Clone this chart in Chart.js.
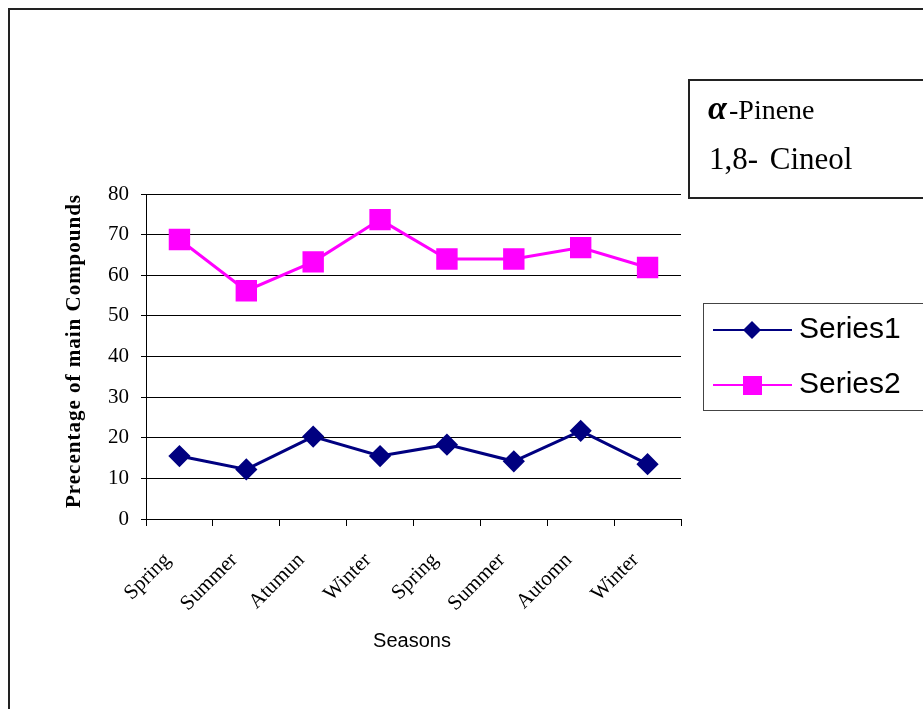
<!DOCTYPE html>
<html>
<head>
<meta charset="utf-8">
<script src="https://cdn.jsdelivr.net/npm/chart.js@4.4.0/dist/chart.umd.min.js"></script>
<style>
  html, body { margin: 0; padding: 0; background: #fff; }
  #wrap { position: relative; width: 923px; height: 709px; }
</style>
</head>
<body>
<div id="wrap"><canvas id="chart" width="923" height="709"></canvas></div>
<script>
// Data
const seasons = ['Spring', 'Summer', 'Atumun', 'Winter', 'Spring', 'Summer', 'Automn', 'Winter'];
const series1 = [15.5, 12.2, 20.3, 15.5, 18.3, 14.2, 21.7, 13.5];
const series2 = [68.8, 56.2, 63.3, 73.7, 64.0, 64.0, 66.8, 61.9];
const seriesNames = ['Series1', 'Series2'];
const boxLines = ['-Pinene', '1,8- Cineol'];

const serif = '"Liberation Serif", "Times New Roman", serif';
const sans = '"Liberation Sans", Arial, sans-serif';

// Frame, titles and the two boxes on the right
const decorations = {
    id: 'decorations',
    afterDraw(chart) {
        const ctx = chart.ctx;
        ctx.save();

        // outer frame
        ctx.strokeStyle = '#222';
        ctx.lineWidth = 2;
        ctx.strokeRect(9, 9, 940, 720);

        // y title
        ctx.save();
        ctx.translate(75, 351);
        ctx.rotate(-Math.PI / 2);
        ctx.font = 'bold 21px ' + serif;
        ctx.letterSpacing = '1px';
        ctx.fillStyle = '#000';
        ctx.textAlign = 'center';
        ctx.textBaseline = 'middle';
        ctx.fillText('Precentage of main Compounds', 0, 0);
        ctx.restore();

        // x title
        ctx.font = '20px ' + sans;
        ctx.fillStyle = '#000';
        ctx.textAlign = 'center';
        ctx.textBaseline = 'middle';
        ctx.fillText('Seasons', 412, 641);

        // compound box
        ctx.strokeStyle = '#222';
        ctx.lineWidth = 2;
        ctx.strokeRect(689, 80, 260, 118);
        ctx.textAlign = 'left';
        ctx.textBaseline = 'alphabetic';
        ctx.font = 'italic bold 34px ' + serif;
        ctx.fillText('α', 708, 119);
        ctx.font = '28px ' + serif;
        ctx.fillText(boxLines[0], 729, 119);
        ctx.font = '31px ' + serif;
        ctx.wordSpacing = '4px';
        ctx.fillText(boxLines[1], 709, 169);
        ctx.wordSpacing = '0px';

        // series legend
        ctx.strokeStyle = '#444';
        ctx.lineWidth = 1;
        ctx.strokeRect(703.5, 303.5, 250, 107);
        chart.data.datasets.forEach((ds, i) => {
            const y = 330 + i * 55;
            ctx.strokeStyle = ds.borderColor;
            ctx.lineWidth = 2;
            ctx.beginPath();
            ctx.moveTo(713, y);
            ctx.lineTo(792, y);
            ctx.stroke();
            ctx.fillStyle = ds.backgroundColor;
            ctx.beginPath();
            if (ds.pointStyle === 'rectRot') {
                ctx.moveTo(752, y - 9); ctx.lineTo(761, y); ctx.lineTo(752, y + 9); ctx.lineTo(743, y);
            } else {
                ctx.rect(743, y - 9, 19, 19);
            }
            ctx.closePath();
            ctx.fill();
            ctx.fillStyle = '#000';
            ctx.font = '30px ' + sans;
            ctx.textBaseline = 'middle';
            ctx.fillText(seriesNames[i], 799, y);
        });

        ctx.restore();
    }
};

new Chart(document.getElementById('chart'), {
    type: 'line',
    data: {
        labels: seasons,
        datasets: [{
            label: seriesNames[0],
            data: series1,
            borderColor: '#000080',
            backgroundColor: '#000080',
            borderWidth: 3,
            pointStyle: 'rectRot',
            pointRadius: 9,
            pointHoverRadius: 9,
            tension: 0
        }, {
            label: seriesNames[1],
            data: series2,
            borderColor: '#ff00ff',
            backgroundColor: '#ff00ff',
            borderWidth: 3,
            pointStyle: 'rect',
            pointRadius: 13,
            pointHoverRadius: 13,
            tension: 0
        }]
    },
    options: {
        responsive: false,
        animation: false,
        events: [],
        layout: {
            padding: { left: 76, right: 242, top: 194, bottom: 60 }
        },
        plugins: {
            legend: { display: false },
            tooltip: { enabled: false }
        },
        scales: {
            x: {
                offset: true,
                grid: {
                    offset: true,
                    drawOnChartArea: false,
                    drawTicks: true,
                    tickLength: 7,
                    color: '#000'
                },
                border: { display: true, color: '#000', width: 1 },
                ticks: {
                    maxRotation: 45,
                    minRotation: 45,
                    autoSkip: false,
                    labelOffset: -12,
                    padding: 22,
                    color: '#000',
                    font: { family: serif, size: 21 }
                },
                afterFit(scale) { scale.height = 130; }
            },
            y: {
                min: 0,
                max: 80,
                ticks: {
                    stepSize: 10,
                    padding: 12,
                    color: '#000',
                    font: { family: serif, size: 21 }
                },
                grid: {
                    color: '#000',
                    lineWidth: 1,
                    tickLength: 5
                },
                border: { display: true, color: '#000', width: 1 },
                afterFit(scale) { scale.width = 70; }
            }
        }
    },
    plugins: [decorations]
});
</script>
</body>
</html>
